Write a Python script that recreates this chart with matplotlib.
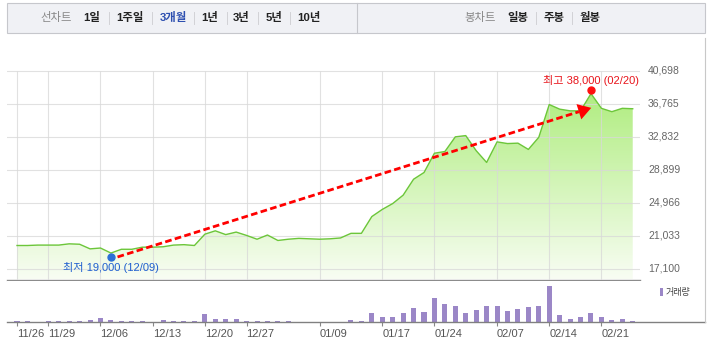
import numpy as np
import matplotlib
matplotlib.use('Agg')
import matplotlib.pyplot as plt
from matplotlib.patches import Polygon, Rectangle
from matplotlib.colors import LinearSegmentedColormap
from matplotlib.lines import Line2D
from matplotlib.transforms import blended_transform_factory

# 일별 종가 (3개월)
price = [19900, 19900, 19950, 19950, 19950, 20100, 20050, 19500, 19600, 19000,
         19450, 19450, 19700, 19700, 19750, 19950, 20000, 19900, 21250, 21650,
         21200, 21500, 21100, 20650, 21150, 20500, 20650, 20750, 20700, 20650,
         20700, 20800, 21350, 21350, 23350, 24200, 24900, 25900, 27800, 28600,
         30900, 31100, 32850, 33000, 31200, 29800, 32250, 32050, 32100, 31350,
         32800, 36700, 36150, 35950, 35950, 38000, 36250, 35850, 36250, 36200]
# 거래량 (천주)
volume = [13, 13, 0, 13, 13, 13, 13, 23, 40, 23,
          13, 13, 13, 0, 23, 13, 13, 13, 83, 33,
          33, 33, 13, 13, 13, 13, 13, 0, 0, 0,
          0, 0, 23, 13, 93, 53, 53, 93, 143, 103,
          243, 183, 163, 93, 123, 163, 163, 113, 133, 153,
          163, 363, 73, 33, 53, 93, 53, 23, 33, 13]
tick_pos = [0, 3, 8, 13, 18, 22, 29, 35, 40, 46, 51, 56]
tick_lab = ['11/26', '11/29', '12/06', '12/13', '12/20', '12/27',
            '01/09', '01/17', '01/24', '02/07', '02/14', '02/21']
y_ticks = [17100, 21033, 24966, 28899, 32832, 36765, 40698]
lo_text = '최저 19,000 (12/09)'
hi_text = '최고 38,000 (02/20)'
line_menu = ['1일', '1주일', '3개월', '1년', '3년', '5년', '10년']
bong_menu = ['일봉', '주봉', '월봉']

W, H = 709, 363
KR = ['Liberation Sans', 'Noto Sans CJK KR']
plt.rcParams['font.family'] = KR


def fx(px): return px / W
def fy(py): return 1 - py / H


fig = plt.figure(figsize=(W / 100, H / 100), dpi=100)

# 상단 메뉴
fig.patches.append(Rectangle((fx(7), fy(33)), fx(705) - fx(7), fy(3) - fy(33),
                             transform=fig.transFigure, fc='#f0f1f5', ec='#c6c7cc', lw=0.8))
fig.add_artist(Line2D([fx(357)] * 2, [fy(3), fy(33)], color='#c6c7cc', lw=0.8))
fig.text(fx(56), fy(18), '선차트', ha='center', va='center', fontsize=8.2, color='#888888')
menu_x = [92, 130, 173, 210, 241, 274, 309]
for i, (m, mx) in enumerate(zip(line_menu, menu_x)):
    fig.text(fx(mx), fy(18), m, ha='center', va='center', fontsize=8.2, weight='bold',
             color='#2d4fb0' if i == 2 else '#222222')
for sx in [109, 152, 194, 227, 258, 290, 536, 572]:
    fig.add_artist(Line2D([fx(sx)] * 2, [fy(12), fy(24)], color='#d2d2d6', lw=0.7))
fig.text(fx(480), fy(18), '봉차트', ha='center', va='center', fontsize=8.2, color='#888888')
for m, mx in zip(bong_menu, [518, 554, 590]):
    fig.text(fx(mx), fy(18), m, ha='center', va='center', fontsize=8.2, weight='bold', color='#222222')

# 가격 차트
step = 10.436
vpp = (y_ticks[-1] - y_ticks[0]) / 198.0
x = np.arange(len(price))
ax = fig.add_axes([fx(7), fy(279.5), fx(640) - fx(7), fy(40) - fy(279.5)])
ybot = y_ticks[0] - (279.5 - 269) * vpp
ytop = y_ticks[-1] + (71 - 40) * vpp

verts = np.column_stack([np.r_[x, x[-1], x[0]], np.r_[price, ybot, ybot]])
poly = Polygon(verts, closed=True, fc='none', ec='none')
ax.add_patch(poly)
cmap = LinearSegmentedColormap.from_list('g', ['#f8fdf3', '#b0ed80'])
im = ax.imshow(np.linspace(0, 1, 256).reshape(-1, 1), extent=[x[0], x[-1], ybot, max(price)],
               origin='lower', aspect='auto', cmap=cmap, zorder=1)
im.set_clip_path(poly)

ax.set_xlim(-(17 - 7) / step, (640 - 17) / step)
ax.set_ylim(ybot, ytop)
for v in y_ticks:
    ax.axhline(v, color='#d8d8d8', lw=0.8, alpha=0.75, zorder=2)
ax.vlines(tick_pos, ybot, y_ticks[-1], color='#d8d8d8', lw=0.8, alpha=0.75, zorder=2)
ax.plot(x, price, color='#6cc63a', lw=1.0, zorder=3)

for s in ['top', 'left', 'right']:
    ax.spines[s].set_visible(False)
ax.spines['bottom'].set_color('#8c8c8c')
ax.spines['bottom'].set_linewidth(1.0)
ax.set_xticks([])
ax.set_yticks([])

trans = blended_transform_factory(fig.transFigure, ax.transData)
for v in y_ticks:
    ax.text(fx(648), v, f'{v:,}', transform=trans, ha='left', va='center',
            fontsize=7.5, color='#666666')


def px_shift(a, px, py, dx, dy):
    X, Y = a.transData.transform((px, py))
    return a.transData.inverted().transform((X + dx, Y - dy))


lo = int(np.argmin(price))
hi = int(np.argmax(price))
lo_pt = px_shift(ax, lo, price[lo], 0, 3.5)
hi_pt = px_shift(ax, hi, price[hi], 0, -3.5)

# 화살표 (최저 -> 최고)
S = ax.transData.transform(lo_pt) + np.array([6.6, -0.4])
T = ax.transData.transform(hi_pt) + np.array([0.3, -17.7])
u = (T - S) / np.hypot(*(T - S))
n = np.array([-u[1], u[0]])
B = T - 13 * u
inv = ax.transData.inverted()
seg = inv.transform(np.vstack([S, B]))
ax.plot(seg[:, 0], seg[:, 1], color='#ff0000', lw=2.0, ls=(0, (2.4, 1.2)), zorder=4)
tri = inv.transform(np.vstack([T, B + 8 * n, B - 8 * n]))
ax.fill(tri[:, 0], tri[:, 1], color='#ff0000', lw=0, zorder=4)

ax.plot(lo_pt[0], lo_pt[1], 'o', color='#2b6fd6', ms=5, mec='#2b6fd6', zorder=5)
ax.plot(hi_pt[0], hi_pt[1], 'o', color='#ff1010', ms=5, mec='#ff1010', zorder=5)
ax.annotate(lo_text, xy=lo_pt, xytext=(0, -11), textcoords='offset pixels', ha='center',
            va='center', fontsize=8, color='#1f5fcf', zorder=6)
ax.annotate(hi_text, xy=hi_pt, xytext=(0, 10), textcoords='offset pixels', ha='center',
            va='center', fontsize=8, color='#e8141b', zorder=6)

# 거래량
axv = fig.add_axes([fx(7), fy(322.3), fx(705) - fx(7), fy(281) - fy(322.3)])
axv.bar(x, volume, width=0.48, color='#9b87c7')
axv.set_xlim(-(17 - 7) / step, (705 - 17) / step)
axv.set_ylim(0, max(volume) * 41.3 / 36.3)
for s in ['top', 'left', 'right']:
    axv.spines[s].set_visible(False)
axv.spines['bottom'].set_color('#808080')
axv.spines['bottom'].set_linewidth(1.0)
axv.set_yticks([])
axv.set_xticks(tick_pos)
axv.set_xticklabels(tick_lab, ha='left')
axv.tick_params(axis='x', length=3, width=0.8, color='#888888', pad=1.5,
                labelsize=8, labelcolor='#555555')

fig.patches.append(Rectangle((fx(660), fy(296)), fx(663) - fx(660), fy(288) - fy(296),
                             transform=fig.transFigure, fc='#9b87c7', ec='none'))
fig.text(fx(666), fy(292), '거래량', ha='left', va='center', fontsize=6.5, color='#444444')

fig.add_artist(Line2D([fx(705)] * 2, [fy(38), fy(322.3)], color='#c8c8c8', lw=0.8))

fig.savefig('out.png', dpi=100)
